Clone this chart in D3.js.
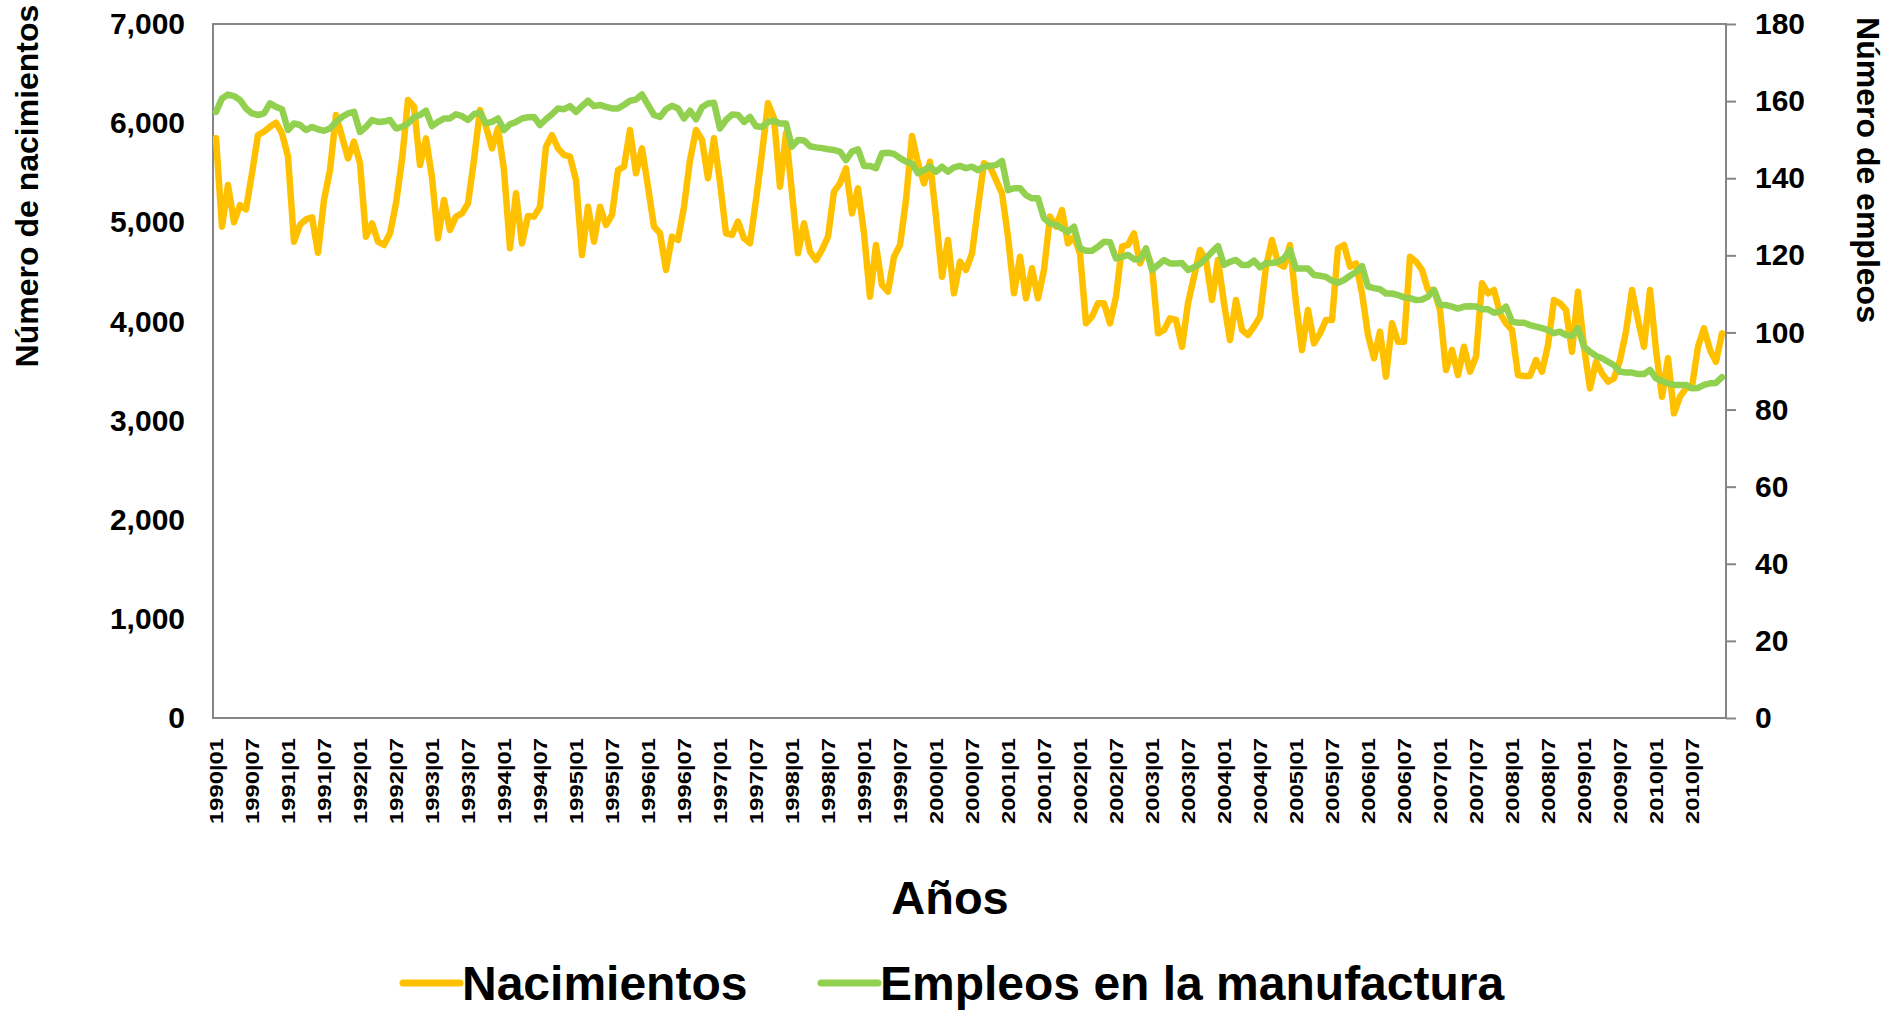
<!DOCTYPE html>
<html>
<head>
<meta charset="utf-8">
<script src="https://cdn.jsdelivr.net/npm/d3@7"></script>
<style>
  body { margin: 0; background: #fff; }
  svg text { font-family: "Liberation Sans", Arial, sans-serif; font-weight: bold; fill: #000; }
</style>
</head>
<body>
<svg width="1898" height="1010"></svg>
<script>
// categories: one per month 1990|01 .. 2010|12
const years = d3.range(1990, 2011);
const categories = [];
years.forEach(function (y) {
    d3.range(1, 13).forEach(function (m) { categories.push(y + '|' + (m < 10 ? '0' + m : m)); });
});

// Nacimientos (left axis)
const nacimientos = [
    5847, 4956, 5376, 5000, 5174, 5131, 5494, 5880, 5914, 5964, 6005, 5897,
    5662, 4804, 4973, 5030, 5050, 4693, 5225, 5527, 6082, 5863, 5645, 5813,
    5595, 4855, 4989, 4804, 4771, 4889, 5191, 5628, 6234, 6166, 5578, 5847,
    5450, 4838, 5225, 4922, 5057, 5090, 5191, 5628, 6133, 5964, 5746, 5947,
    5527, 4738, 5292, 4788, 5063, 5057, 5157, 5763, 5880, 5746, 5679, 5662,
    5427, 4670, 5157, 4804, 5157, 4973, 5074, 5527, 5561, 5931, 5494, 5746,
    5359, 4956, 4889, 4519, 4855, 4822, 5157, 5628, 5931, 5830, 5443, 5847,
    5400, 4889, 4872, 5006, 4838, 4788, 5225, 5696, 6200, 6049, 5359, 5897,
    5292, 4687, 4989, 4704, 4620, 4721, 4855, 5309, 5393, 5544, 5090, 5342,
    4889, 4250, 4771, 4368, 4300, 4653, 4771, 5225, 5870, 5595, 5393, 5611,
    5057, 4451, 4822, 4284, 4603, 4519, 4687, 5150, 5595, 5561, 5427, 5292,
    4855, 4284, 4653, 4233, 4536, 4233, 4519, 5057, 4956, 5124, 4788, 4855,
    4687, 3981, 4048, 4183, 4183, 3981, 4250, 4754, 4771, 4889, 4586, 4721,
    4552, 3880, 3914, 4032, 4015, 3745, 4183, 4451, 4721, 4620, 4216, 4620,
    4183, 3813, 4216, 3914, 3863, 3947, 4048, 4552, 4822, 4586, 4552, 4771,
    4183, 3712, 4116, 3779, 3880, 4015, 4015, 4738, 4771, 4552, 4586, 4284,
    3863, 3628, 3897, 3443, 3981, 3796, 3796, 4653, 4603, 4519, 4317, 4317,
    4116, 3510, 3712, 3460, 3745, 3493, 3644, 4385, 4284, 4317, 4082, 3981,
    3914, 3460, 3450, 3450, 3611, 3493, 3762, 4216, 4183, 4116, 3695, 4300,
    3745, 3325, 3594, 3477, 3392, 3426, 3611, 3897, 4317, 4015, 3745, 4317,
    3712, 3241, 3628, 3073, 3241, 3325, 3342, 3745, 3930, 3712, 3594, 3880
];

// Empleos en la manufactura (right axis)
const empleos = [
    157.2, 160.7, 161.7, 161.3, 160.3, 158.1, 156.8, 156.4, 156.8, 159.4, 158.5, 157.9,
    152.5, 154.2, 153.8, 152.5, 153.3, 152.7, 152.3, 152.9, 154.6, 155.9, 156.8, 157.2,
    152.0, 153.3, 155.1, 154.6, 154.7, 155.1, 152.9, 153.3, 154.2, 155.8, 156.4, 157.5,
    153.5, 154.6, 155.5, 155.5, 156.6, 156.1, 155.1, 156.6, 157.0, 154.2, 154.6, 155.5,
    152.5, 154.0, 154.6, 155.5, 155.8, 155.9, 153.8, 155.3, 156.6, 158.1, 157.9, 158.7,
    157.2, 158.7, 160.1, 158.7, 159.0, 158.5, 158.1, 158.1, 159.0, 160.1, 160.4, 161.7,
    159.0, 156.4, 155.9, 157.9, 158.8, 158.1, 155.5, 157.5, 155.3, 158.4, 159.4, 159.6,
    152.9, 155.1, 156.5, 156.4, 154.6, 155.9, 153.5, 153.3, 154.6, 154.9, 154.2, 154.2,
    148.2, 149.9, 149.8, 148.3, 148.0, 147.8, 147.5, 147.3, 146.9, 144.7, 146.9, 147.5,
    143.2, 143.2, 142.6, 146.5, 146.6, 146.3, 145.2, 144.3, 143.8, 141.3, 142.1, 143.0,
    141.7, 143.0, 141.7, 142.8, 143.2, 142.6, 143.0, 142.1, 143.0, 143.2, 143.4, 144.5,
    136.9, 137.4, 137.4, 135.6, 134.8, 134.8, 129.6, 128.3, 127.9, 127.0, 126.1, 127.4,
    121.8, 121.2, 121.2, 122.2, 123.5, 123.4, 119.2, 119.6, 120.1, 119.0, 118.9, 121.8,
    116.2, 117.5, 118.8, 117.9, 117.9, 118.0, 116.2, 116.9, 117.8, 119.2, 120.9, 122.4,
    117.5, 118.3, 118.8, 117.5, 117.5, 118.6, 116.9, 118.0, 118.0, 118.3, 119.2, 121.4,
    116.6, 116.6, 116.6, 114.9, 114.7, 114.4, 113.4, 112.9, 113.6, 114.7, 115.7, 117.2,
    111.9, 111.5, 111.2, 110.1, 110.1, 109.7, 109.1, 108.9, 108.4, 108.5, 109.3, 111.0,
    107.1, 107.1, 106.7, 106.2, 106.7, 106.8, 106.7, 106.0, 106.0, 105.1, 105.4, 106.7,
    102.8, 102.5, 102.5, 101.9, 101.5, 101.1, 100.6, 99.8, 100.2, 99.3, 99.1, 101.1,
    96.3, 95.0, 93.9, 93.3, 92.4, 91.5, 89.8, 89.6, 89.6, 89.2, 89.2, 90.3,
    88.1, 87.4, 86.8, 86.4, 86.4, 86.4, 85.5, 85.6, 86.4, 86.8, 86.9, 88.4
];

const leftTicks = [0, 1000, 2000, 3000, 4000, 5000, 6000, 7000];
const rightTicks = [0, 20, 40, 60, 80, 100, 120, 140, 160, 180];
const xTickLabels = categories.filter(function (d, i) { return i % 6 === 0; });

const seriesNames = ['Nacimientos', 'Empleos en la manufactura'];
const colors = ['#FFC000', '#92D050'];

function main() {
    const svg = d3.select('svg');
    const left = 213, right = 1726, top = 24, bottom = 718;
    const gray = '#868686';

    const x = d3.scaleBand().domain(categories).range([left, right - 1]);
    const yL = d3.scaleLinear().domain([0, 7000]).range([bottom, top]);
    const yR = d3.scaleLinear().domain([0, 180]).range([bottom, top]);
    const cx = function (i) { return x(categories[i]) + x.bandwidth() / 2; };

    // plot frame
    svg.append('rect')
        .attr('x', left).attr('y', top)
        .attr('width', right - left).attr('height', bottom - top)
        .attr('fill', 'none').attr('stroke', gray).attr('stroke-width', 2);

    // left axis
    const gl = svg.append('g')
        .attr('transform', 'translate(' + left + ',0)')
        .call(d3.axisLeft(yL).tickValues(leftTicks).tickSize(0).tickPadding(28)
            .tickFormat(d3.format(',')));
    gl.select('.domain').remove();
    gl.selectAll('text').style('font-size', '30px');

    // right axis
    const gr = svg.append('g')
        .attr('transform', 'translate(' + right + ',0)')
        .call(d3.axisRight(yR).tickValues(rightTicks).tickSize(10).tickPadding(19));
    gr.select('.domain').remove();
    gr.selectAll('line').attr('stroke', gray).attr('stroke-width', 2);
    gr.selectAll('text').style('font-size', '30px');

    // category axis (labels are drawn long and narrow like the original)
    const gb = svg.append('g')
        .attr('transform', 'translate(0,' + bottom + ')')
        .call(d3.axisBottom(x).tickValues(xTickLabels).tickSize(0).tickPadding(0));
    gb.select('.domain').remove();
    gb.selectAll('text')
        .style('font-size', '19px')
        .attr('text-anchor', 'end')
        .attr('dy', '0.35em')
        .attr('transform', 'translate(0,20) rotate(-90) scale(1.25,1)');

    // axis titles
    svg.append('text')
        .attr('transform', 'translate(38,186) rotate(-90)')
        .attr('text-anchor', 'middle')
        .style('font-size', '32px')
        .text('Número de nacimientos');
    svg.append('text')
        .attr('transform', 'translate(1857,170) rotate(90)')
        .attr('text-anchor', 'middle')
        .style('font-size', '32px')
        .text('Número de empleos');
    svg.append('text')
        .attr('x', 950).attr('y', 914)
        .attr('text-anchor', 'middle')
        .style('font-size', '47px')
        .text('Años');

    // lines
    const lineL = d3.line().x(function (d, i) { return cx(i); }).y(function (d) { return yL(d); });
    const lineR = d3.line().x(function (d, i) { return cx(i); }).y(function (d) { return yR(d); });
    svg.append('path').datum(nacimientos)
        .attr('d', lineL).attr('fill', 'none')
        .attr('stroke', colors[0]).attr('stroke-width', 6.5)
        .attr('stroke-linejoin', 'round').attr('stroke-linecap', 'round');
    svg.append('path').datum(empleos)
        .attr('d', lineR).attr('fill', 'none')
        .attr('stroke', colors[1]).attr('stroke-width', 6.5)
        .attr('stroke-linejoin', 'round').attr('stroke-linecap', 'round');

    // legend
    const legendX = [403, 821];
    seriesNames.forEach(function (name, k) {
        svg.append('line')
            .attr('x1', legendX[k]).attr('x2', legendX[k] + 57)
            .attr('y1', 983).attr('y2', 983)
            .attr('stroke', colors[k]).attr('stroke-width', 7)
            .attr('stroke-linecap', 'round');
        svg.append('text')
            .attr('x', legendX[k] + 59).attr('y', 1000)
            .style('font-size', '48px')
            .text(name);
    });
}
main();
</script>
</body>
</html>
